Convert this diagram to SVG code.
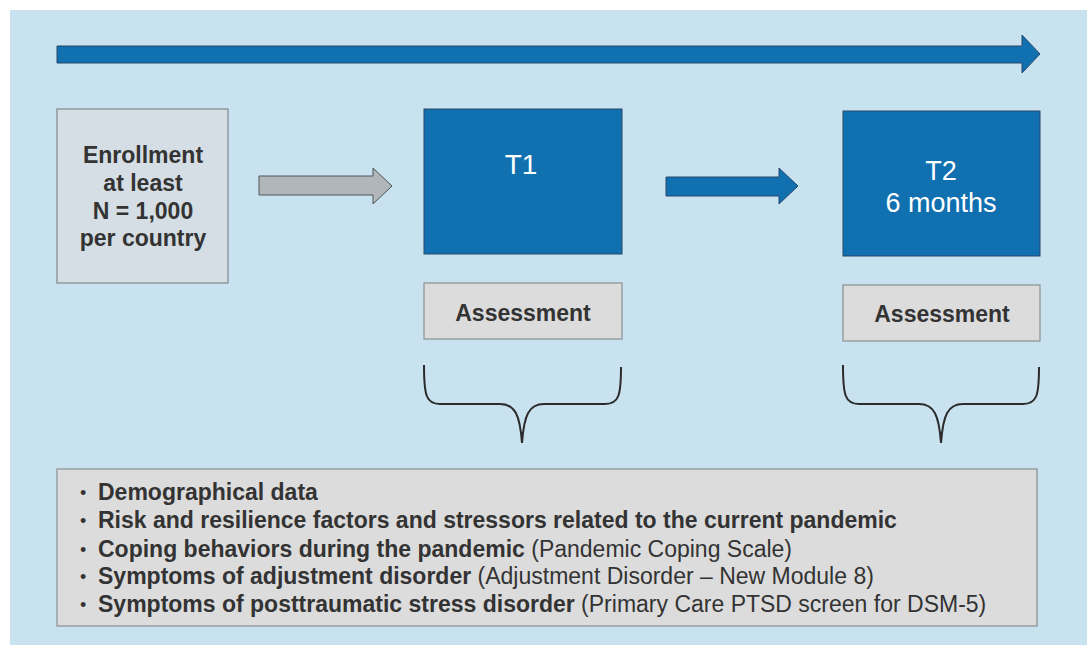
<svg xmlns="http://www.w3.org/2000/svg" width="1087" height="645" viewBox="0 0 1087 645">
<style>
.blue{fill:#1170b0;stroke:#27486a;stroke-width:1}
.gray{fill:#dcdcdd;stroke:#8a8f93;stroke-width:1.2}
.enr{fill:#d4dee4;stroke:#7f878c;stroke-width:1.2}
.t{font-family:"Liberation Sans",Arial,sans-serif;fill:#333}
.b{font-weight:bold}
.w{fill:#fff}
.bul{font-size:18px}
.brace{fill:none;stroke:#2b2b2b;stroke-width:2}
</style>
<rect x="0" y="0" width="1087" height="645" fill="#ffffff"/>
<rect x="10" y="10" width="1077" height="635" fill="#c9e2ef"/>
<g id="connectors">
<polygon class="blue" points="57,46 1022,46 1022,35 1040,54 1022,73 1022,63 57,63"/>
<polygon points="259,176 373,176 373,168 392,186 373,204 373,195 259,195" fill="#b0b6ba" stroke="#4f5559" stroke-width="1"/>
<polygon class="blue" points="666,177 779,177 779,168 798,186 779,204 779,196 666,196"/>
<path class="brace" d="M424,365 C424,395 426,404 440,404 L500,404 C515,404 520,415 522,443 C524,415 529,404 544,404 L605,404 C619,404 621,395 621,367"/>
<path class="brace" d="M843,365 C843,395 845,404 859,404 L919,404 C934,404 939,415 941,443 C943,415 948,404 963,404 L1023,404 C1037,404 1039,395 1039,367"/>
</g>
<g id="enrollment">
<rect class="enr" x="57" y="109" width="171" height="174"/>
<text class="t b" font-size="23" text-anchor="middle" x="143"><tspan x="143" y="163">Enrollment</tspan><tspan x="143" y="191">at least</tspan><tspan x="143" y="219">N = 1,000</tspan><tspan x="143" y="246">per country</tspan></text>
</g>
<g id="t1">
<rect class="blue" x="424" y="109" width="198" height="145"/>
<text class="t w" font-size="28" text-anchor="middle" x="521" y="174">T1</text>
</g>
<g id="t2">
<rect class="blue" x="843" y="111" width="197" height="145"/>
<text class="t w" font-size="27" text-anchor="middle" x="941" y="180">T2</text>
<text class="t w" font-size="27" text-anchor="middle" x="941" y="212">6 months</text>
</g>
<g id="assessment1">
<rect class="gray" x="424" y="283" width="198" height="56"/>
<text class="t b" font-size="23" text-anchor="middle" x="523" y="321">Assessment</text>
</g>
<g id="assessment2">
<rect class="gray" x="843" y="285" width="197" height="56"/>
<text class="t b" font-size="23" text-anchor="middle" x="942" y="322">Assessment</text>
</g>
<g id="measures">
<rect class="gray" x="57" y="469" width="980" height="157" stroke="#6f7477"/>
<g class="t" font-size="23">
<text x="80" y="499" class="bul">•</text>
<text x="98" y="500" class="b">Demographical data</text>
<text x="80" y="527" class="bul">•</text>
<text x="98" y="528" class="b">Risk and resilience factors and stressors related to the current pandemic</text>
<text x="80" y="556" class="bul">•</text>
<text x="98" y="557"><tspan class="b">Coping behaviors during the pandemic</tspan> (Pandemic Coping Scale)</text>
<text x="80" y="583" class="bul">•</text>
<text x="98" y="584"><tspan class="b">Symptoms of adjustment disorder</tspan> (Adjustment Disorder – New Module 8)</text>
<text x="80" y="611" class="bul">•</text>
<text x="98" y="612"><tspan class="b">Symptoms of posttraumatic stress disorder</tspan> (Primary Care PTSD screen for DSM-5)</text>
</g>
</g>
</svg>
